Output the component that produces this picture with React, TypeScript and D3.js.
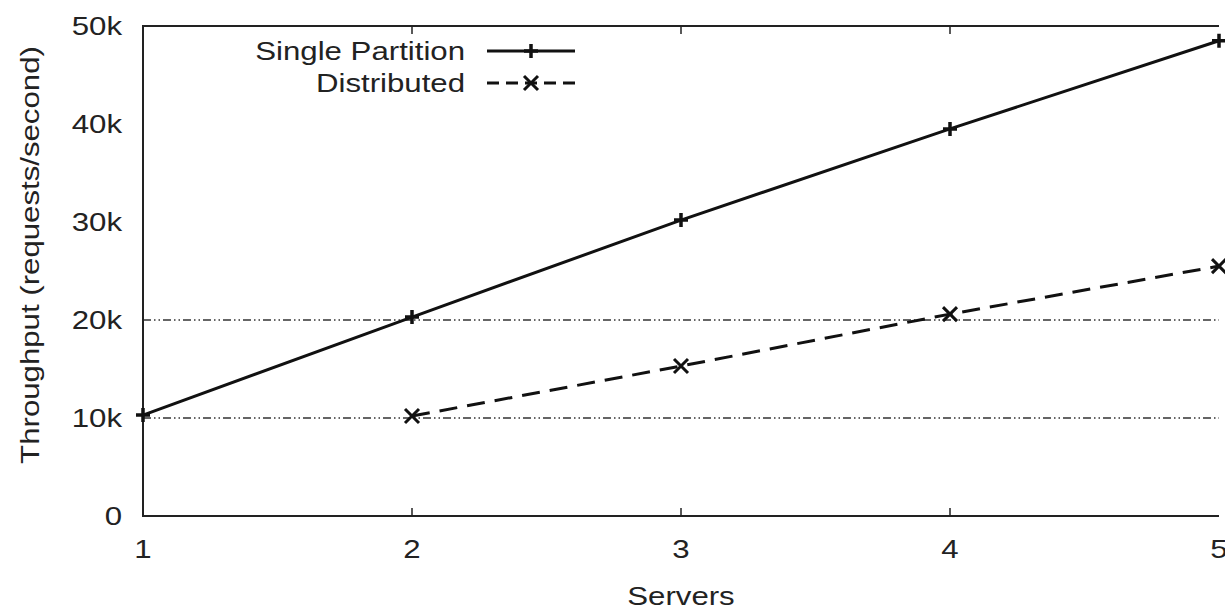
import React, { useEffect, useRef } from "react";
import * as d3 from "d3";

// values
const servers = [1, 2, 3, 4, 5];
const singlePartition = [10300, 20300, 30200, 39500, 48500];
const distributedServers = [2, 3, 4, 5];
const distributed = [10200, 15300, 20600, 25500];
const yTicks = [0, 10000, 20000, 30000, 40000, 50000];
const gridValues = [10000, 20000];

const App = () => {
  const svgRef = useRef<SVGSVGElement>(null);

  useEffect(() => {
    const W = 1225;
    const H = 610;
    const margin = { top: 26, right: 6, bottom: 94, left: 143 };
    const width = W - margin.left - margin.right;
    const height = H - margin.top - margin.bottom;
    const font = "'Liberation Sans', Arial, sans-serif";
    const fs = 26;
    const sx = 1.2; // the original text is a bit wide

    const root = d3.select(svgRef.current);
    root.selectAll("*").remove();
    root.attr("width", W).attr("height", H);

    const svg = root
      .append("g")
      .attr("transform", `translate(${margin.left},${margin.top})`);

    const x = d3.scaleLinear().domain([1, 5]).range([0, width]);
    const y = d3.scaleLinear().domain([0, 50000]).range([height, 0]);

    const label = (g: any, tx: number, ty: number, txt: string, anchor: string, rot = 0) =>
      g.append("text")
        .attr("transform", `translate(${tx},${ty}) rotate(${rot}) scale(${sx},1)`)
        .attr("text-anchor", anchor)
        .attr("font-family", font)
        .attr("font-size", fs)
        .attr("fill", "#222")
        .text(txt);

    // dash-dot grid
    svg
      .selectAll(".grid")
      .data(gridValues)
      .enter()
      .append("line")
      .attr("x1", 0)
      .attr("x2", width)
      .attr("y1", (d) => y(d))
      .attr("y2", (d) => y(d))
      .attr("stroke", "#333")
      .attr("stroke-width", 1.3)
      .attr("stroke-dasharray", "8,3,1.5,3,1.5,3");

    // frame (left, top, bottom)
    svg
      .append("path")
      .attr("d", `M${width},0 H0 V${height} H${width}`)
      .attr("fill", "none")
      .attr("stroke", "#222")
      .attr("stroke-width", 2);

    // x ticks, mirrored at top
    servers.slice(1, -1).forEach((s) => {
      svg.append("line").attr("x1", x(s)).attr("x2", x(s))
        .attr("y1", height).attr("y2", height - 8)
        .attr("stroke", "#222").attr("stroke-width", 1.5);
      svg.append("line").attr("x1", x(s)).attr("x2", x(s))
        .attr("y1", 0).attr("y2", 8)
        .attr("stroke", "#222").attr("stroke-width", 1.5);
    });

    // tick labels
    servers.forEach((d) => label(svg, x(d), height + 42, String(d), "middle"));
    yTicks.forEach((d) =>
      label(svg, -21, y(d) + 9, d === 0 ? "0" : d / 1000 + "k", "end")
    );

    // axis titles
    label(svg, x(3), height + 89, "Servers", "middle");
    label(svg, -104, height / 2 - 16, "Throughput (requests/second)", "middle", -90);

    const line = d3
      .line<[number, number]>()
      .x((d) => x(d[0]))
      .y((d) => y(d[1]));

    const singleData: [number, number][] = servers.map((s, i) => [s, singlePartition[i]]);
    const distData: [number, number][] = distributedServers.map((s, i) => [s, distributed[i]]);

    svg.append("path").datum(singleData).attr("d", line)
      .attr("fill", "none").attr("stroke", "#111").attr("stroke-width", 3);

    svg.append("path").datum(distData).attr("d", line)
      .attr("fill", "none").attr("stroke", "#111").attr("stroke-width", 3)
      .attr("stroke-dasharray", "18,10");

    const plus = (g: any, cx: number, cy: number) => {
      g.append("path")
        .attr("d", `M${cx - 7},${cy} H${cx + 7} M${cx},${cy - 7} V${cy + 7}`)
        .attr("stroke", "#111").attr("stroke-width", 3.5);
    };
    const cross = (g: any, cx: number, cy: number) => {
      g.append("path")
        .attr("d", `M${cx - 7},${cy - 7} L${cx + 7},${cy + 7} M${cx - 7},${cy + 7} L${cx + 7},${cy - 7}`)
        .attr("stroke", "#111").attr("stroke-width", 3);
    };

    singleData.forEach((d) => plus(svg, x(d[0]), y(d[1])));
    distData.forEach((d) => cross(svg, x(d[0]), y(d[1])));

    // legend
    const legend = root.append("g");
    const items = [
      { label: "Single Partition", dash: null, mark: plus, yy: 51 },
      { label: "Distributed", dash: "12,7", mark: cross, yy: 83 },
    ];
    items.forEach((it) => {
      label(legend, 465, it.yy + 9, it.label, "end");
      legend.append("line")
        .attr("x1", 487).attr("x2", 575).attr("y1", it.yy).attr("y2", it.yy)
        .attr("stroke", "#111").attr("stroke-width", 3)
        .attr("stroke-dasharray", it.dash);
      it.mark(legend, 531, it.yy);
    });
  }, []);

  return <svg ref={svgRef} style={{ position: "absolute", left: 0, top: 0 }}></svg>;
};

export default App;
